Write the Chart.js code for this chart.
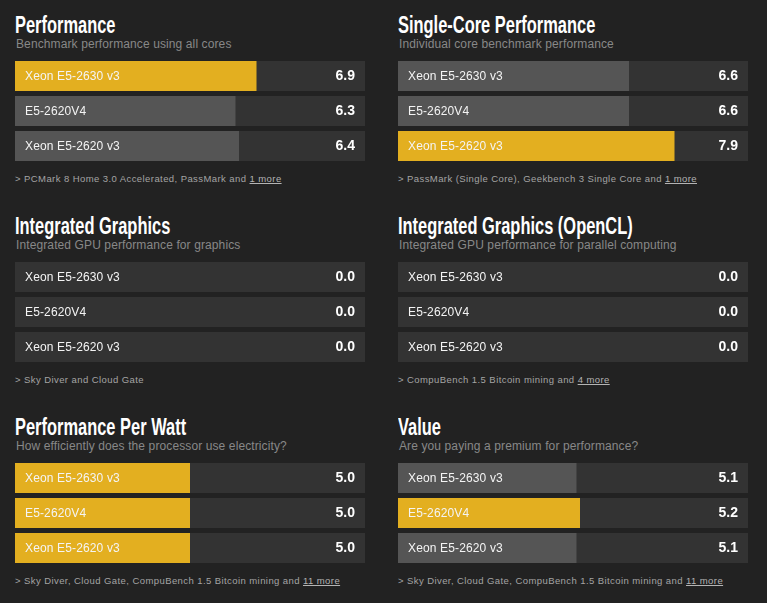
<!DOCTYPE html>
<html><head><meta charset="utf-8">
<style>
html,body{margin:0;padding:0;background:#222;width:767px;height:603px;overflow:hidden}
.t{position:absolute;white-space:nowrap}
.title{font:bold 24px/26px "Liberation Sans",sans-serif;color:#fff;transform:scaleX(.685);transform-origin:0 0}
.sub{font:12px/14px "Liberation Sans",sans-serif;color:#888;letter-spacing:.11px}
.foot{font:9.5px/12px "Liberation Sans",sans-serif;color:#a4a4a4;letter-spacing:.42px}
.foot u{color:#b4b4b4}
canvas{position:absolute}
</style>
<script src="https://cdn.jsdelivr.net/npm/chart.js@4"></script>
</head><body>
<script>
const names = ["Xeon E5-2630 v3","E5-2620V4","Xeon E5-2620 v3"];
const titles = ["Performance","Single-Core Performance","Integrated Graphics","Integrated Graphics (OpenCL)","Performance Per Watt","Value"];
const subtitles = ["Benchmark performance using all cores","Individual core benchmark performance","Integrated GPU performance for graphics","Integrated GPU performance for parallel computing","How efficiently does the processor use electricity?","Are you paying a premium for performance?"];
const footnotes = ["> PCMark 8 Home 3.0 Accelerated, PassMark and ","> PassMark (Single Core), Geekbench 3 Single Core and ","> Sky Diver and Cloud Gate","> CompuBench 1.5 Bitcoin mining and ","> Sky Diver, Cloud Gate, CompuBench 1.5 Bitcoin mining and ","> Sky Diver, Cloud Gate, CompuBench 1.5 Bitcoin mining and "];
const footLinks = ["1 more","1 more","","4 more","11 more","11 more"];
const performance = [6.9,6.3,6.4];
const singleCore = [6.6,6.6,7.9];
const graphics = [0,0,0];
const openCL = [0,0,0];
const perWatt = [5.0,5.0,5.0];
const valueScores = [5.1,5.2,5.1];
const fullScale = [10,10,10];
const panelValues = [performance,singleCore,graphics,openCL,perWatt,valueScores];

const GOLD="#e3af20", GREY="#555555", TRACK="#333333";
const colX=[15,398], rowY=[61,262,463];

const labelPlugin={id:"rowLabels",afterDatasetsDraw(c){
  const g=c.ctx,y=c.scales.y,x=c.scales.x,v=c.data.datasets[1].data;
  g.save();g.textBaseline="middle";
  names.forEach((n,i)=>{
    const py=y.getPixelForValue(i)+.5;
    g.font='12px "Liberation Sans"';g.textAlign="left";g.fillStyle="#f4f4f4";
    g.letterSpacing="0.14px";
    g.fillText(n,x.left+10,py);
    g.font='bold 14px "Liberation Sans"';g.textAlign="right";g.fillStyle="#ffffff";
    g.letterSpacing="0px";
    g.fillText(v[i].toFixed(1),x.right-10,py);
  });
  g.restore();
}};

function addText(cls,x,y,html){const d=document.createElement("div");d.className="t "+cls;d.style.left=x+"px";d.style.top=y+"px";d.innerHTML=html;document.body.appendChild(d);}

panelValues.forEach((vals,p)=>{
  const x=colX[p%2], y=rowY[Math.floor(p/2)];
  addText("title",x,y-49,titles[p]);
  addText("sub",x+1,y-24,subtitles[p]);
  addText("foot",x,y+112,footnotes[p]+(footLinks[p]?"<u>"+footLinks[p]+"</u>":""));
  const cv=document.createElement("canvas");
  cv.style.left=x+"px";cv.style.top=(y-3)+"px";cv.style.width="350px";cv.style.height="106px";
  cv.width=350;cv.height=106;document.body.appendChild(cv);
  const top=Math.max(...vals);
  new Chart(cv,{type:"bar",plugins:[labelPlugin],
    data:{labels:names,datasets:[
      {data:fullScale,backgroundColor:TRACK,grouped:false,order:2,barPercentage:30/35,categoryPercentage:1},
      {data:vals,backgroundColor:vals.map(v=>v===top?GOLD:GREY),grouped:false,order:1,barPercentage:30/35,categoryPercentage:1}
    ]},
    options:{indexAxis:"y",responsive:false,animation:false,devicePixelRatio:1,
      layout:{padding:{top:.5,bottom:.5,left:0,right:0}},
      plugins:{legend:{display:false},tooltip:{enabled:false},title:{display:false}},
      scales:{x:{display:false,min:0,max:10},y:{display:false}}}
  });
});
</script>
</body></html>
